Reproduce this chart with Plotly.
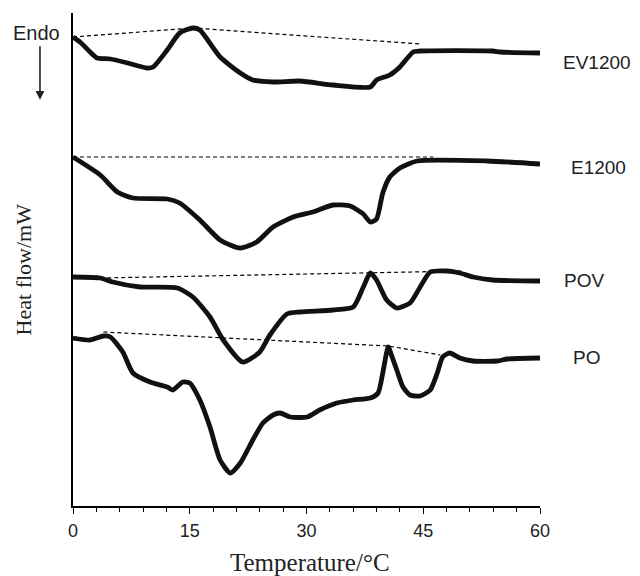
import plotly.graph_objects as go

# temperature (degC) and heat flow (arbitrary units)
ev1200_t = [0, 0.9, 2.2, 3.1, 4.8, 7.0, 9.5, 10.3, 12.1, 13.7, 15.4, 16.3, 18.9, 21.5, 23.1, 25.7,
            29.1, 33.4, 38.2, 39.0, 40.7, 42.0, 43.7, 44.6, 53.9, 54.9, 60.0]
ev1200_hf = [46.9, 46.4, 45.4, 44.8, 44.7, 44.3, 43.8, 43.9, 45.6, 47.3, 47.8, 47.6, 44.9, 43.3, 42.6, 42.4,
             42.5, 42.1, 41.9, 42.6, 43.1, 43.9, 45.4, 45.5, 45.5, 45.4, 45.3]

e1200_t = [0, 3.5, 5.7, 7.7, 12.1, 13.7, 16.3, 18.9, 21.5, 23.6, 25.7, 28.3, 30.8, 33.4, 35.6, 37.3,
           38.2, 39.0, 39.8, 40.7, 42.0, 44.2, 53.2, 60.0]
e1200_hf = [34.9, 33.1, 31.4, 30.8, 30.7, 30.3, 28.6, 26.6, 25.8, 26.4, 27.9, 28.9, 29.4, 30.1, 30.0, 29.2,
            28.4, 28.7, 31.3, 32.9, 33.8, 34.5, 34.5, 34.2]

pov_t = [0, 3.5, 5.1, 8.6, 13.4, 15.4, 17.6, 19.3, 21.8, 24.0, 25.3, 27.5, 29.2, 33.4, 36.0, 37.3,
         38.2, 39.0, 40.3, 41.6, 43.3, 44.6, 45.9, 48.1, 49.7, 51.4, 53.9, 60.0]
pov_hf = [22.9, 22.8, 22.4, 21.9, 21.8, 20.9, 18.9, 16.6, 14.4, 15.4, 17.1, 19.2, 19.4, 19.6, 19.9, 21.9,
          23.3, 22.6, 20.6, 19.8, 20.3, 21.9, 23.4, 23.5, 23.3, 22.9, 22.6, 22.5]

po_t = [0, 2.2, 3.9, 4.8, 6.4, 7.7, 9.9, 12.1, 12.8, 14.1, 15.0, 16.3, 17.6, 18.9, 20.2, 21.5, 23.1,
        24.4, 25.7, 26.6, 27.9, 30.1, 31.7, 33.9, 36.0, 38.2, 39.2, 39.8, 40.5, 41.0, 41.6, 42.4, 43.3,
        44.6, 45.9, 46.8, 47.5, 48.4, 49.7, 51.4, 54.5, 55.8, 60.0]
po_hf = [16.8, 16.6, 17.0, 16.9, 15.4, 13.3, 12.4, 11.9, 11.6, 12.4, 12.3, 10.6, 7.9, 4.6, 3.3, 4.3, 6.6,
         8.3, 9.1, 9.3, 8.9, 8.9, 9.6, 10.3, 10.6, 10.8, 11.3, 13.3, 15.9, 14.9, 13.6, 11.9, 11.1,
         11.0, 11.6, 13.3, 14.9, 15.3, 14.8, 14.5, 14.5, 14.7, 14.8]

# dashed baselines
base_ev1200_t = [0, 15.4, 44.6]
base_ev1200_hf = [46.9, 47.8, 46.2]
base_e1200_t = [0, 46.3]
base_e1200_hf = [34.9, 34.9]
base_pov_t = [3.5, 50.1]
base_pov_hf = [22.8, 23.5]
base_po_t = [3.9, 40.5, 47.2]
base_po_hf = [17.4, 16.0, 15.1]

labels = ["EV1200", "E1200", "POV", "PO"]
label_x = [1.045, 1.062, 1.047, 1.067]
label_y = [0.899, 0.686, 0.458, 0.302]

fig = go.Figure()

for t, hf in [(base_ev1200_t, base_ev1200_hf), (base_e1200_t, base_e1200_hf),
              (base_pov_t, base_pov_hf), (base_po_t, base_po_hf)]:
    fig.add_trace(go.Scatter(x=t, y=hf, mode="lines", showlegend=False,
                             line=dict(color="black", width=1.2, dash="4px,3px")))

for t, hf in [(ev1200_t, ev1200_hf), (e1200_t, e1200_hf), (pov_t, pov_hf), (po_t, po_hf)]:
    fig.add_trace(go.Scatter(x=t, y=hf, mode="lines", showlegend=False,
                             line=dict(color="#111111", width=4.8, shape="spline", smoothing=0.6)))

for lab, lx, ly in zip(labels, label_x, label_y):
    fig.add_annotation(x=lx, y=ly, xref="paper", yref="paper", text=lab, showarrow=False,
                       xanchor="left", yanchor="middle",
                       font=dict(family="Liberation Sans", size=19, color="#222"))

fig.add_annotation(x=-0.079, y=0.959, xref="paper", yref="paper", text="Endo", showarrow=False,
                   xanchor="center", yanchor="middle",
                   font=dict(family="Liberation Sans", size=20, color="#222"))
fig.add_annotation(x=-0.0707, y=0.824, xref="paper", yref="paper", text="", showarrow=True,
                   ax=0, ay=-55, arrowhead=2, arrowsize=1.1, arrowwidth=1.6, arrowcolor="#222")
fig.add_annotation(x=-0.107, y=0.48, xref="paper", yref="paper", text="Heat flow/mW",
                   showarrow=False, textangle=-90, xanchor="center", yanchor="middle",
                   font=dict(family="Liberation Serif", size=22, color="#222"))
fig.add_annotation(x=0.508, y=-0.1156, xref="paper", yref="paper", text="Temperature/°C",
                   showarrow=False, xanchor="center", yanchor="middle",
                   font=dict(family="Liberation Serif", size=25, color="#222"))

fig.update_xaxes(range=[0, 60], tickvals=[0, 15, 30, 45, 60], showline=True, linecolor="black",
                 linewidth=1.5, ticks="outside", ticklen=6, tickcolor="black", showgrid=False,
                 zeroline=False, ticklabelstandoff=2,
                 tickfont=dict(family="Liberation Sans", size=18, color="#222"),
                 minor=dict(dtick=3, ticks="outside", ticklen=4, tickcolor="black"))
fig.update_yaxes(range=[0, 49.3], showline=True, linecolor="black", linewidth=1.5,
                 showticklabels=False, ticks="", showgrid=False, zeroline=False)

fig.update_layout(width=640, height=576, plot_bgcolor="white", paper_bgcolor="white",
                  margin=dict(l=65, r=108, t=5, b=78))

fig.write_html("out.html")
